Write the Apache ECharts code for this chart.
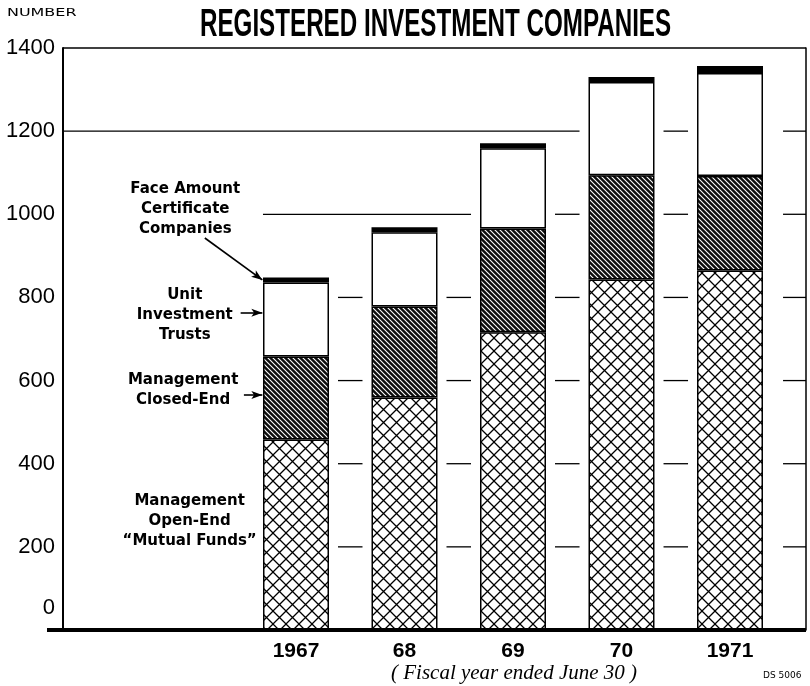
<!DOCTYPE html>
<html>
<head>
<meta charset="utf-8">
<script src="https://cdn.jsdelivr.net/npm/echarts@6/dist/echarts.min.js"></script>
<style>html,body{margin:0;padding:0;background:#fff;}#c{width:810px;height:686px;}</style>
</head>
<body>
<div id="c"></div>
<script>
// ---- data ----
var years = [1967, 1968, 1969, 1970, 1971];
var yearLabels = ['1967', '68', '69', '70', '1971'];
var mutualFunds = [458, 559, 716, 843, 865];   // Management Open-End "Mutual Funds"
var closedEnd   = [200, 219, 250, 251, 227];   // Management Closed-End
var unitTrusts  = [178, 179, 193, 224, 248];   // Unit Investment Trusts
var faceAmount  = [12, 12, 12, 12, 17];        // Face Amount Certificate Companies
var yTicks = [0, 200, 400, 600, 800, 1000, 1200, 1400];
var gridValues = [0, 200, 400, 600, 800, 1000, 1200, 1400];

// annotation texts and their anchor points (data units: year, number)
var annoTexts = ['Face Amount\nCertificate\nCompanies', 'Unit\nInvestment\nTrusts', 'Management\nClosed-End', 'Management\nOpen-End\n\u201cMutual Funds\u201d'];
var annoX = [1965.98, 1965.975, 1965.96, 1966.02];
var annoY = [1013, 758, 576, 262];
var arrowFrom = [[1966.16, 943], [1966.49, 763], [1966.52, 565]];
var arrowTo   = [[1966.69, 842], [1966.69, 763], [1966.69, 565]];

var totals = years.map(function (_, i) { return mutualFunds[i] + closedEnd[i] + unitTrusts[i] + faceAmount[i]; });

function crossPattern() {
  var s = 13, c = document.createElement('canvas'); c.width = s; c.height = s;
  var g = c.getContext('2d');
  g.fillStyle = '#fff'; g.fillRect(0, 0, s, s);
  g.strokeStyle = '#000'; g.lineWidth = 1.3;
  g.beginPath();
  g.moveTo(-2, -2); g.lineTo(s + 2, s + 2);
  g.moveTo(s + 2, -2); g.lineTo(-2, s + 2);
  g.stroke();
  return c;
}
function stripePattern() {
  var s = 5, c = document.createElement('canvas'); c.width = s; c.height = s;
  var g = c.getContext('2d');
  g.fillStyle = '#0d0d0d'; g.fillRect(0, 0, s, s);
  g.strokeStyle = '#fff'; g.lineWidth = 1.1;
  g.beginPath();
  g.moveTo(-1, -1); g.lineTo(s + 1, s + 1);
  g.moveTo(-1, s - 1); g.lineTo(1, s + 1);
  g.moveTo(s - 1, -1); g.lineTo(s + 1, 1);
  g.stroke();
  return c;
}

var BAR_W = 66;
var sans = "'Liberation Sans', Arial, sans-serif";
var border = { borderColor: '#000', borderWidth: 1.5 };

var chart = echarts.init(document.getElementById('c'), null, { renderer: 'canvas' });

var option = {
  backgroundColor: '#fff',
  animation: false,
  title: [
    { text: '( Fiscal year ended June 30 )', left: 386, top: 658,
      textStyle: { fontFamily: "'Liberation Serif', serif", fontStyle: 'italic', fontWeight: 'normal', fontSize: 21, color: '#000' } },
    { text: 'DS 5006', left: 758, top: 666,
      textStyle: { fontFamily: 'DejaVu Sans', fontWeight: 'normal', fontSize: 9, color: '#000' } }
  ],
  graphic: [
    { type: 'text', x: 200, y: 6, scaleX: 0.62, silent: true,
      style: { text: 'REGISTERED INVESTMENT COMPANIES', fontFamily: sans, fontWeight: 'bold', fontSize: 39, fill: '#000' } },
    { type: 'text', x: 7, y: 8, scaleX: 1.45, silent: true,
      style: { text: 'NUMBER', fontFamily: 'DejaVu Sans', fontSize: 11, fill: '#000' } }
  ],
  grid: [
    { left: 241.75, right: 25.75, top: 48, bottom: 56, containLabel: false },   // bars
    { left: 63, right: 4, top: 48, bottom: 56, containLabel: false }           // frame / annotations
  ],
  xAxis: [
    { type: 'category', gridIndex: 0, data: yearLabels,
      axisLine: { show: false }, axisTick: { show: false }, splitLine: { show: false },
      axisLabel: { margin: 11, fontFamily: sans, fontWeight: 'bold', fontSize: 21, color: '#000' } },
    { type: 'value', gridIndex: 1, min: 1964.853, max: 1971.70, show: false }
  ],
  yAxis: [
    { type: 'value', gridIndex: 0, min: 0, max: 1400, interval: 200, show: false },
    {
      type: 'value', gridIndex: 1, position: 'left', min: 0, max: 1400, interval: 200,
      axisLine: { show: true, lineStyle: { color: '#000', width: 2 } },
      axisTick: { show: false }, splitLine: { show: false },
      axisLabel: {
        margin: 8, fontFamily: sans, fontSize: 22, color: '#000',
        formatter: function (v) { return v === 0 ? '{z|0}' : String(v); },
        rich: { z: { fontFamily: sans, fontSize: 22, color: '#000', padding: [0, 0, 44, 0] } }
      }
    },
    {
      type: 'value', gridIndex: 1, position: 'right', min: 0, max: 1400, interval: 200,
      axisLine: { show: true, lineStyle: { color: '#000', width: 1.5 } },
      axisTick: { show: false }, splitLine: { show: false }, axisLabel: { show: false }
    }
  ],
  series: [
    { name: 'Management Open-End "Mutual Funds"', type: 'bar', stack: 't', barWidth: BAR_W,
      xAxisIndex: 0, yAxisIndex: 0, data: mutualFunds,
      itemStyle: Object.assign({ color: { image: crossPattern(), repeat: 'repeat' } }, border) },
    { name: 'Management Closed-End', type: 'bar', stack: 't', barWidth: BAR_W,
      xAxisIndex: 0, yAxisIndex: 0, data: closedEnd,
      itemStyle: Object.assign({ color: { image: stripePattern(), repeat: 'repeat' } }, border) },
    { name: 'Unit Investment Trusts', type: 'bar', stack: 't', barWidth: BAR_W,
      xAxisIndex: 0, yAxisIndex: 0, data: unitTrusts,
      itemStyle: Object.assign({ color: '#fff' }, border) },
    { name: 'Face Amount Certificate Companies', type: 'bar', stack: 't', barWidth: BAR_W,
      xAxisIndex: 0, yAxisIndex: 0, data: faceAmount,
      itemStyle: Object.assign({ color: '#000' }, border) },
    { name: 'grid', type: 'custom', coordinateSystem: 'cartesian2d', xAxisIndex: 1, yAxisIndex: 1,
      z: 5, silent: true, clip: false,
      data: gridValues.map(function (v) { return [years[0], v]; }),
      encode: { x: 0, y: 1 },
      renderItem: function (params, api) {
        var v = api.value(1);
        var cs = params.coordSys;
        var y = api.coord([years[0], v])[1];
        var half = BAR_W / 2, margin = 9, lastMargin = 20;
        var x0, x1 = cs.x + cs.width, lw = 1.3;
        if (v === 0) { x0 = cs.x - 16; lw = 4; }
        else if (v >= 1200) { x0 = cs.x; }
        else { x0 = api.coord([years[0], v])[0] - half; }
        var blocks = [];
        if (v > 0) {
          years.forEach(function (yr, i) {
            if (totals[i] >= v) {
              var cx = api.coord([yr, v])[0];
              blocks.push([cx - half - margin, cx + half + (i === years.length - 1 ? lastMargin : margin)]);
            }
          });
        }
        var segs = [], cur = x0;
        blocks.forEach(function (b) {
          if (b[0] > cur) segs.push([cur, b[0]]);
          cur = Math.max(cur, b[1]);
        });
        if (cur < x1) segs.push([cur, x1]);
        return { type: 'group', children: segs.map(function (s) {
          return { type: 'line', shape: { x1: s[0], y1: y, x2: s[1], y2: y }, style: { stroke: '#000', lineWidth: lw } };
        }) };
      },
      markPoint: {
        symbol: 'circle', symbolSize: 1, itemStyle: { color: 'rgba(0,0,0,0)' },
        label: { show: true, position: 'inside', fontFamily: 'DejaVu Sans', fontWeight: 'bold',
                 fontSize: 15, lineHeight: 20, color: '#000', align: 'center' },
        data: annoTexts.map(function (t, i) { return { coord: [annoX[i], annoY[i]], value: t, label: { formatter: t } }; })
      },
      markLine: {
        silent: true, symbol: ['none', 'arrow'], symbolSize: [6, 11],
        lineStyle: { color: '#000', width: 1.6, type: 'solid' },
        label: { show: false },
        data: arrowFrom.map(function (p, i) { return [{ coord: p }, { coord: arrowTo[i] }]; })
      }
    }
  ]
};
chart.setOption(option);
</script>
</body>
</html>
